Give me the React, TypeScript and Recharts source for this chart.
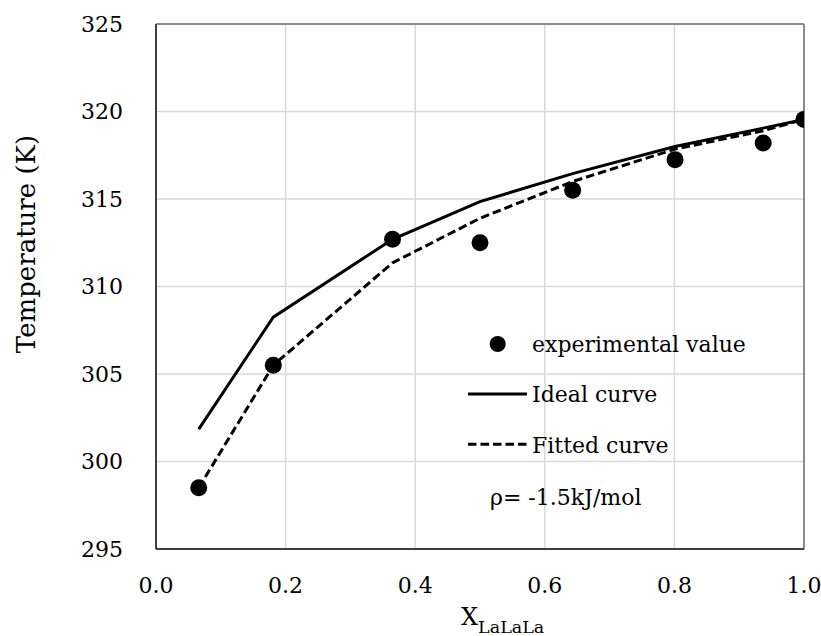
import React from 'react';
import {
  ComposedChart,
  Line,
  Scatter,
  XAxis,
  YAxis,
  CartesianGrid,
  ReferenceLine,
  Legend,
  Label,
} from 'recharts';

const xValues = [0.066, 0.181, 0.365, 0.5, 0.643, 0.801, 0.937, 1.0];
const experimental = [298.5, 305.5, 312.7, 312.5, 315.5, 317.25, 318.2, 319.55];
const idealCurve = [301.85, 308.25, 312.7, 314.85, 316.45, 318.0, 319.05, 319.55];
const fittedCurve = [298.5, 305.5, 311.35, 313.9, 316.0, 317.85, 318.9, 319.55];

const xTicks = [0, 0.2, 0.4, 0.6, 0.8, 1.0];
const yTicks = [295, 300, 305, 310, 315, 320, 325];

const legendLabels = ['experimental value', 'Ideal curve', 'Fitted curve'];
const noteText = 'ρ= -1.5kJ/mol';
const yTitle = 'Temperature (K)';
const xTitleMain = 'X';
const xTitleSub = 'LaLaLa';

const data = xValues.map((x, i) => ({
  x,
  exp: experimental[i],
  ideal: idealCurve[i],
  fitted: fittedCurve[i],
}));

const FONT = '"DejaVu Serif", serif';

const Dot = (props: any) => {
  const { cx, cy } = props;
  if (cx == null || cy == null) return null;
  return <circle cx={cx} cy={cy} r={8.5} fill="#000" />;
};

const LegendBox = () => (
  <svg width={300} height={200} style={{ overflow: 'visible', display: 'block' }}>
    <circle cx={47.7} cy={24} r={8} fill="#000" />
    <text x={82} y={31.5} fontFamily={FONT} fontSize={22} fill="#000">
      {legendLabels[0]}
    </text>
    <line x1={18} x2={77} y1={74} y2={74} stroke="#000" strokeWidth={3} />
    <text x={82} y={81.5} fontFamily={FONT} fontSize={22} fill="#000">
      {legendLabels[1]}
    </text>
    <line x1={18} x2={77} y1={124.3} y2={124.3} stroke="#000" strokeWidth={3} strokeDasharray="8.5 4" />
    <text x={82} y={132.5} fontFamily={FONT} fontSize={22} fill="#000">
      {legendLabels[2]}
    </text>
    <text x={40} y={185} fontFamily={FONT} fontSize={22} fill="#000">
      {noteText}
    </text>
  </svg>
);

export default function App() {
  return (
    <div style={{ position: 'fixed', left: 0, top: 0, width: 821, height: 636, background: '#fff' }}>
      <ComposedChart
        width={821}
        height={636}
        data={data}
        margin={{ top: 24, right: 17, left: 0, bottom: 0 }}
      >
        <CartesianGrid stroke="#d9d9d9" strokeWidth={1.5} />
        <XAxis
          type="number"
          dataKey="x"
          domain={[0, 1]}
          ticks={xTicks}
          tickFormatter={(v: number) => v.toFixed(1)}
          height={87}
          tickSize={0}
          tickMargin={28}
          axisLine={{ stroke: '#404040', strokeWidth: 2 }}
          tick={{ fill: '#000', fontSize: 22, fontFamily: FONT }}
          allowDataOverflow
        >
          <Label
            content={() => (
              <text x={461} y={625} fontFamily={FONT} fontSize={24} fill="#000">
                {xTitleMain}
                <tspan dy={8} fontSize={17.5}>
                  {xTitleSub}
                </tspan>
              </text>
            )}
          />
        </XAxis>
        <YAxis
          type="number"
          domain={[295, 325]}
          ticks={yTicks}
          width={156}
          tickSize={0}
          tickMargin={33}
          axisLine={{ stroke: '#404040', strokeWidth: 2 }}
          tick={{ fill: '#000', fontSize: 22, fontFamily: FONT }}
          allowDataOverflow
        >
          <Label
            content={() => (
              <text
                x={35}
                y={244}
                transform="rotate(-90, 35, 244)"
                textAnchor="middle"
                fontFamily={FONT}
                fontSize={26}
                fill="#000"
              >
                {yTitle}
              </text>
            )}
          />
        </YAxis>
        <ReferenceLine y={325} stroke="#8c8c8c" strokeWidth={2} />
        <ReferenceLine x={1} stroke="#8c8c8c" strokeWidth={2} />
        <Line
          dataKey="ideal"
          stroke="#000"
          strokeWidth={3}
          dot={false}
          activeDot={false}
          isAnimationActive={false}
          type="linear"
        />
        <Line
          dataKey="fitted"
          stroke="#000"
          strokeWidth={3}
          strokeDasharray="8.5 4"
          dot={false}
          activeDot={false}
          isAnimationActive={false}
          type="linear"
        />
        <Scatter dataKey="exp" fill="#000" shape={Dot} isAnimationActive={false} />
        <Legend
          layout="vertical"
          align="center"
          verticalAlign="middle"
          content={() => <LegendBox />}
          wrapperStyle={{ left: 450, top: 320, width: 300, height: 200 }}
        />
      </ComposedChart>
    </div>
  );
}
